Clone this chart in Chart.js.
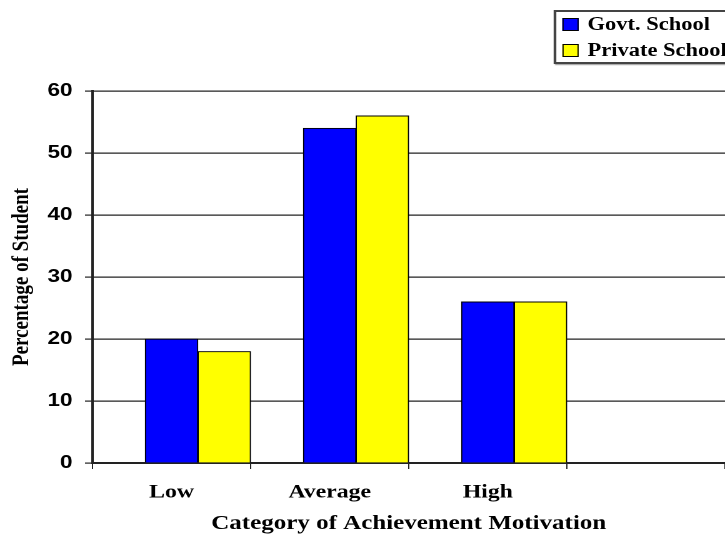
<!DOCTYPE html>
<html lang="en">
<head>
    <meta charset="UTF-8">
    <title>Category of Achievement Motivation</title>
    <style>
        html, body {
            margin: 0;
            padding: 0;
            background: #fff;
            overflow: hidden;
        }
        /* the source picture is stretched sideways, so draw narrow and widen */
        .wrap {
            position: relative;
            width: 580px;
            height: 538px;
            transform: scaleX(1.25);
            transform-origin: 0 0;
        }
        #legend {
            position: absolute;
            left: 443px;
            top: 10px;
            width: 170px;
            height: 50px;
            border: 2px solid #444;
            box-shadow: 1px 1px 1px #999;
            background: #fff;
            font: bold 18px "Liberation Serif", "Times New Roman", serif;
            color: #000;
        }
        #legend div {
            position: absolute;
            left: 5px;
            height: 22px;
            line-height: 22px;
            white-space: nowrap;
        }
        #legend span {
            display: inline-block;
            width: 11px;
            height: 11px;
            border: 1px solid #000;
            margin-right: 7px;
            vertical-align: -1px;
        }
    </style>
    <script src="https://cdn.jsdelivr.net/npm/chart.js"></script>
</head>
<body>
<div class="wrap">
    <canvas id="motivationChart"></canvas>
    <div id="legend"></div>
</div>

<script>
    // Data
    const categories = ['Low', 'Average', 'High', ''];
    const govtSchool = [20, 54, 26, null];
    const privateSchool = [18, 56, 26, null];
    const seriesNames = ['Govt. School', 'Private School'];
    const seriesColors = ['#0000ff', '#ffff00'];
    const yTicks = [0, 10, 20, 30, 40, 50, 60];

    // legend box (top right)
    const legend = document.getElementById('legend');
    seriesNames.forEach(function(name, i) {
        const row = document.createElement('div');
        row.style.top = (i * 26 + 1) + 'px';
        row.innerHTML = '<span style="background:' + seriesColors[i] + '"></span>' + name;
        legend.appendChild(row);
    });

    const ctx = document.getElementById('motivationChart').getContext('2d');
    const chart = new Chart(ctx, {
        type: 'bar',
        data: {
            labels: categories,
            datasets: [
                {
                    // empty slot, keeps the bars to the right of each category like the original
                    label: '',
                    data: categories.map(function() { return null; }),
                    backgroundColor: 'rgba(0,0,0,0)'
                },
                {
                    label: seriesNames[0],
                    data: govtSchool,
                    backgroundColor: seriesColors[0],
                    borderColor: '#000',
                    borderWidth: 1
                },
                {
                    label: seriesNames[1],
                    data: privateSchool,
                    backgroundColor: seriesColors[1],
                    borderColor: '#000',
                    borderWidth: 1
                }
            ]
        },
        options: {
            responsive: true,
            maintainAspectRatio: false,
            animation: false,
            devicePixelRatio: 2,
            categoryPercentage: 1.0,
            barPercentage: 1.0,
            layout: {
                padding: { top: 91, right: 0, left: 0, bottom: 0 }
            },
            plugins: {
                legend: { display: false },
                tooltip: { enabled: false }
            },
            scales: {
                x: {
                    grid: {
                        offset: true,
                        drawOnChartArea: false,
                        drawTicks: true,
                        tickLength: 6,
                        color: '#222'
                    },
                    border: { color: '#222', width: 2 },
                    ticks: {
                        color: '#000',
                        padding: 12,
                        maxRotation: 0,
                        font: { family: '"Liberation Serif", serif', weight: 'bold', size: 19 }
                    },
                    title: {
                        display: true,
                        text: 'Category of Achievement Motivation',
                        color: '#000',
                        padding: { top: 0, bottom: 2 },
                        font: { family: '"Liberation Serif", serif', weight: 'bold', size: 20 }
                    },
                    afterFit: function(scale) {
                        scale.height = 75;
                    }
                },
                y: {
                    min: 0,
                    max: 60,
                    afterBuildTicks: function(scale) {
                        scale.ticks = yTicks.map(function(v) { return { value: v }; });
                    },
                    grid: {
                        color: '#222',
                        lineWidth: 1.2,
                        tickLength: 6
                    },
                    border: { color: '#222', width: 2 },
                    ticks: {
                        color: '#000',
                        padding: 10,
                        font: { family: '"Liberation Sans", Arial, sans-serif', weight: 'bold', size: 18 }
                    },
                    title: {
                        display: true,
                        text: 'Percentage of Student',
                        color: '#000',
                        padding: { top: 6, bottom: 0 },
                        font: { family: '"Liberation Serif", serif', weight: 'bold', size: 19 }
                    },
                    afterFit: function(scale) {
                        scale.width = 74;
                    }
                }
            }
        }
    });
</script>
</body>
</html>
